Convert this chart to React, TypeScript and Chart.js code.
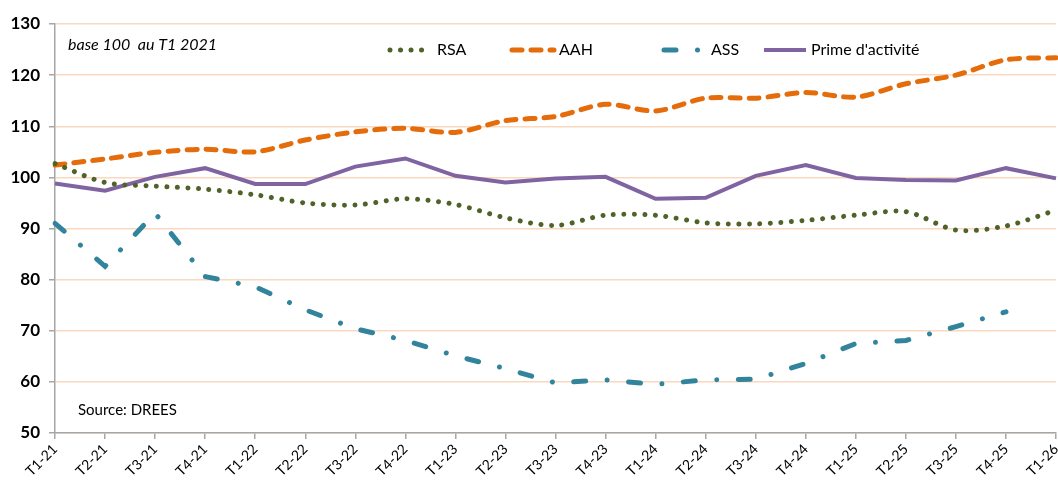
import React, { useEffect, useRef } from 'react';
import { Chart, registerables } from 'chart.js';

Chart.register(...registerables);

const categories = ['T1-21','T2-21','T3-21','T4-21','T1-22','T2-22','T3-22','T4-22','T1-23','T2-23','T3-23','T4-23','T1-24','T2-24','T3-24','T4-24','T1-25','T2-25','T3-25','T4-25','T1-26'];
const rsa = [102.7, 99.0, 98.3, 97.7, 96.6, 95.0, 94.6, 95.8, 94.7, 92.1, 90.6, 92.6, 92.6, 91.1, 90.9, 91.6, 92.6, 93.3, 89.7, 90.5, 93.6];
const aah = [102.4, 103.6, 104.9, 105.5, 105.0, 107.3, 108.9, 109.6, 108.8, 111.1, 111.9, 114.3, 113.0, 115.5, 115.5, 116.6, 115.7, 118.3, 120.0, 123.0, 123.4];
const ass = [91.0, 82.6, 93.0, 80.6, 78.6, 74.1, 70.4, 68.1, 65.1, 62.6, 59.8, 60.4, 59.5, 60.4, 60.5, 63.6, 67.5, 68.1, 70.8, 73.7, null];
const prime = [98.8, 97.4, 100.1, 101.8, 98.7, 98.7, 102.1, 103.7, 100.3, 99.0, 99.8, 100.1, 95.8, 96.0, 100.3, 102.4, 99.9, 99.5, 99.4, 101.8, 99.8];
const seriesLabels = ['RSA', 'AAH', 'ASS', "Prime d'activité"];
const yTicks = [50, 60, 70, 80, 90, 100, 110, 120, 130];
const noteText = 'base 100  au T1 2021';
const sourceText = 'Source: DREES';

const FONT = 'Lato, "Open Sans", sans-serif';

const overlayPlugin = {
  id: 'overlay',
  afterDraw(chart: any) {
    const ctx = chart.ctx;
    const area = chart.chartArea;
    ctx.save();
    ctx.fillStyle = '#000';
    ctx.textBaseline = 'middle';
    ctx.textAlign = 'left';
    ctx.font = `italic 16px ${FONT}`;
    ctx.fillText(noteText, area.left + 13, 45);
    ctx.font = `15px ${FONT}`;
    ctx.fillText(sourceText, area.left + 23, 410);

    const legendX = [388, 510, 662, 762];
    const legendY = 50;
    chart.data.datasets.forEach((ds: any, i: number) => {
      const x = legendX[i];
      ctx.save();
      ctx.strokeStyle = ds.borderColor;
      ctx.lineWidth = ds.borderWidth;
      ctx.lineCap = ds.borderCapStyle || 'butt';
      ctx.setLineDash(ds.borderDash || []);
      ctx.beginPath();
      ctx.moveTo(x + 2, legendY);
      ctx.lineTo(x + 44, legendY);
      ctx.stroke();
      ctx.restore();
      ctx.font = `16px ${FONT}`;
      ctx.fillStyle = '#000';
      ctx.fillText(ds.label, x + 49, legendY);
    });
    ctx.restore();
  },
};

export default function App() {
  const ref = useRef<HTMLCanvasElement | null>(null);
  useEffect(() => {
    document.body.style.margin = '0';
    if (!ref.current) return;
    const chart = new Chart(ref.current, {
      type: 'line',
      data: {
        labels: categories,
        datasets: [
          {
            label: seriesLabels[0],
            data: rsa,
            borderColor: '#4F6228',
            borderWidth: 5,
            borderDash: [0.01, 10.5],
            borderCapStyle: 'round',
            pointRadius: 0,
            tension: 0.3,
            fill: false,
          },
          {
            label: seriesLabels[1],
            data: aah,
            borderColor: '#E46C0A',
            borderWidth: 5,
            borderDash: [10, 9],
            borderCapStyle: 'round',
            pointRadius: 0,
            tension: 0.3,
            fill: false,
          },
          {
            label: seriesLabels[2],
            data: ass,
            borderColor: '#31849B',
            borderWidth: 5,
            borderDash: [12, 21.5, 0.01, 21.5],
            borderCapStyle: 'round',
            pointRadius: 0,
            tension: 0,
            fill: false,
          },
          {
            label: seriesLabels[3],
            data: prime,
            borderColor: '#8064A2',
            borderWidth: 4,
            pointRadius: 0,
            tension: 0,
            fill: false,
          },
        ],
      },
      options: {
        animation: false,
        responsive: false,
        maintainAspectRatio: false,
        layout: { padding: { top: 24, right: 2, left: 0, bottom: 0 } },
        plugins: {
          legend: { display: false },
          tooltip: { enabled: false },
        },
        scales: {
          x: {
            type: 'category',
            offset: false,
            grid: {
              display: true,
              drawOnChartArea: false,
              drawTicks: true,
              tickLength: 6,
              color: '#A6A6A6',
              lineWidth: 1.5,
            },
            border: { color: '#A6A6A6', width: 1.5 },
            ticks: {
              autoSkip: false,
              maxRotation: 45,
              minRotation: 45,
              padding: 2,
              color: '#000',
              font: { family: FONT, size: 14 },
            },
            afterFit(scale: any) {
              scale.height = 48;
              scale.paddingLeft = 0;
              scale.paddingRight = 0;
            },
          },
          y: {
            min: 50,
            max: 130,
            afterBuildTicks(scale: any) {
              scale.ticks = yTicks.map((v) => ({ value: v }));
            },
            grid: {
              color: '#FAD8BD',
              lineWidth: 1.5,
              tickColor: '#A6A6A6',
              tickLength: 6,
            },
            border: { color: '#A6A6A6', width: 1.5 },
            ticks: {
              padding: 9,
              color: '#000',
              font: { family: FONT, size: 17, weight: 'bold' },
            },
            afterFit(scale: any) {
              scale.width = 55;
              scale.paddingTop = 0;
              scale.paddingBottom = 0;
            },
          },
        },
      },
      plugins: [overlayPlugin],
    });
    return () => chart.destroy();
  }, []);
  return (
    <div style={{ width: 1058, height: 481 }}>
      <canvas ref={ref} width={1058} height={481} />
    </div>
  );
}
